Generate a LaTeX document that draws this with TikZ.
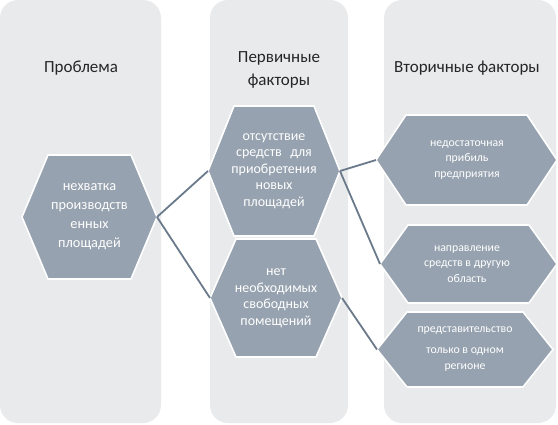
\documentclass[tikz,border=0pt]{standalone}
\usepackage{fontspec}
\setmainfont{Carlito}
\definecolor{colbg}{HTML}{E9EAEC}
\definecolor{hexfill}{HTML}{96A2AF}
\definecolor{connc}{HTML}{6B7A8A}
\newcommand\drawhex[6]{%
  \path[fill=hexfill,draw=white,line width=1.6pt,line join=miter]
    (#2,{(#4+#5)/2}) -- (#2+#6,#4) -- (#3-#6,#4) -- (#3,{(#4+#5)/2})
    -- (#3-#6,#5) -- (#2+#6,#5) -- cycle;
  \coordinate (#1L) at (#2,{(#4+#5)/2});
  \coordinate (#1R) at (#3,{(#4+#5)/2});
}
\tikzset{
  colbox/.style={fill=colbg,draw=none,rounded corners=18pt},
  title/.style={align=center,text=black!85,font=\fontsize{17}{23}\selectfont},
  bigtxt/.style={align=center,text=white,font=\fontsize{14.3}{19}\selectfont},
  midtxt/.style={align=center,text=white,font=\fontsize{14}{16.5}\selectfont},
  smalltxt/.style={align=center,text=white,font=\fontsize{11.8}{15.5}\selectfont},
  conn/.style={draw=connc,line width=1.8pt}
}
\begin{document}
\begin{tikzpicture}[x=1pt,y=-1pt]
\useasboundingbox (0,0) rectangle (558,424);
\fill[white] (0,0) rectangle (558,424);
% columns
\path[colbox] (0,0) rectangle (161,423);
\path[colbox] (210,0) rectangle (348,423);
\path[colbox] (384,0) rectangle (556,423);
% titles
\node[title] (t1) at (81,68) {Проблема};
\node[title] (t2) at (279,70) {Первичные\\факторы};
\node[title] (t3) at (467,68) {Вторичные факторы};
% hexagons
\drawhex{h1}{22}{157}{155}{279}{26}
\drawhex{h2}{208}{340}{106}{236}{26}
\drawhex{h3}{210}{342}{239}{357}{26}
\drawhex{h4}{376}{557}{115}{205}{30}
\drawhex{h5}{380}{557}{225}{303}{28}
\drawhex{h6}{377}{553}{312}{387}{30}
% connectors
\draw[conn] (h1R) -- (h2L);
\draw[conn] (h1R) -- (h3L);
\draw[conn] (h2R) -- (h4L);
\draw[conn] (h2R) -- (h5L);
\draw[conn] (h3R) -- (h6L);
% texts
\node[bigtxt] (x1) at (89.5,217) {нехватка\\производств\\енных\\площадей};
\node[midtxt] (x2) at (274,171) {отсутствие\\средств\hspace{0.6em}для\\приобретения\\новых\\площадей};
\node[midtxt] (x3) at (276,298) {нет\\необходимых\\свободных\\помещений};
\node[smalltxt] (x4) at (467,160) {недостаточная\\прибиль\\предприятия};
\node[smalltxt] (x5) at (467,264) {направление\\средств в другую\\область};
\node[smalltxt] (x6) at (465,349) {представительство\\[6pt]только в одном\\регионе};
\end{tikzpicture}
\end{document}
